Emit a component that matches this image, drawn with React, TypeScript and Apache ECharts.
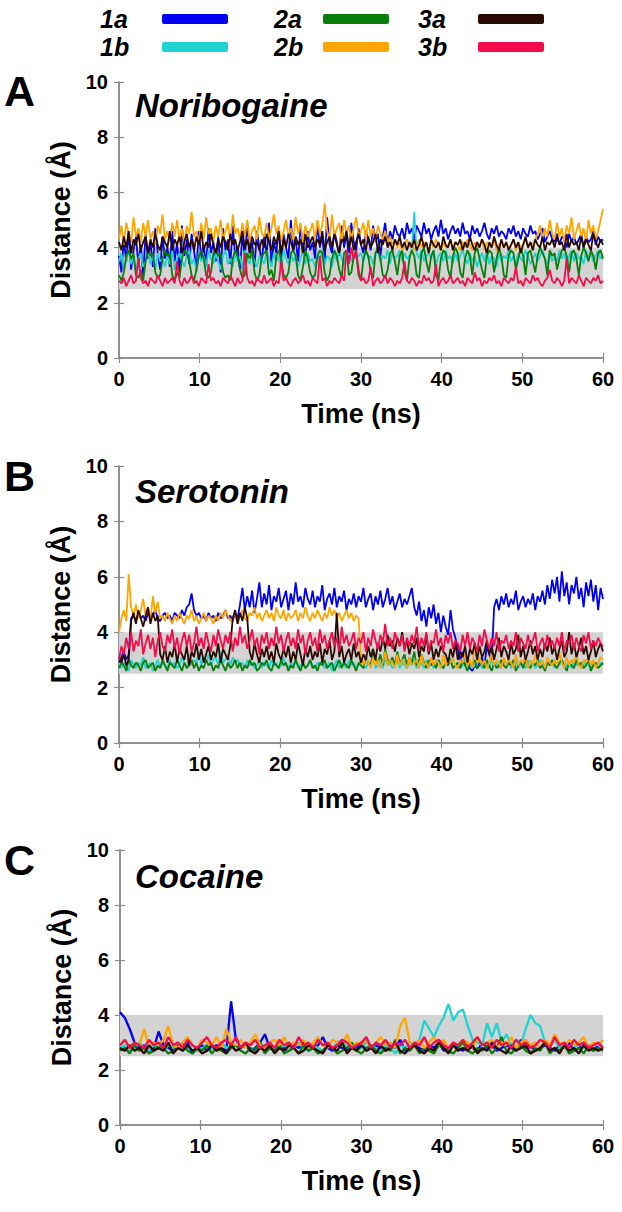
import React, { useEffect, useRef } from "react";
import * as echarts from "echarts";

const T_MAX = 60;
const xTicks = [0, 10, 20, 30, 40, 50, 60];
const yTicks = [0, 2, 4, 6, 8, 10];
const panelLetters = ["A", "B", "C"];
const panelTitles = ["Noribogaine", "Serotonin", "Cocaine"];
const seriesNames = ["1a", "1b", "2a", "2b", "3a", "3b"];
const seriesColors = ["#0000f5", "#1fd3d3", "#0a7d0a", "#ffa500", "#2a0a00", "#f50a4a"];
const band = [2.5, 4.0];

// Panel A: Noribogaine (sampled every 0.3 ns)
const A1a = [3.7,3.1,4.3,3.5,4.6,3.2,3.9,4.4,3.4,4.1,3.0,4.5,3.6,4.2,3.3,4.7,3.8,3.2,4.4,3.6,
4.0,3.3,4.6,3.5,4.2,3.1,4.8,3.7,4.3,3.4,4.5,3.9,3.2,4.6,3.6,4.1,3.3,4.7,3.8,4.2,
3.5,4.4,3.1,4.7,3.9,4.3,3.4,4.8,3.7,4.0,3.2,4.5,3.6,4.9,3.8,4.2,3.3,4.6,4.0,3.5,
4.4,3.7,4.9,3.4,4.2,3.8,4.7,3.3,4.5,4.0,3.6,5.0,3.9,4.3,3.5,4.8,4.1,3.7,4.6,3.9,
4.2,3.6,4.9,4.0,4.4,3.5,5.1,4.1,3.8,4.6,4.2,3.7,4.8,4.0,4.5,3.6,4.9,4.2,3.9,4.7,
4.1,3.8,4.6,4.3,3.9,4.8,4.2,4.5,3.7,4.4,4.9,4.1,4.6,4.3,4.8,4.5,4.4,4.7,4.3,4.9,
4.5,4.7,4.3,4.8,4.6,4.4,4.9,4.5,4.7,4.3,4.6,4.8,4.4,5.0,4.5,4.7,4.3,4.6,4.8,4.5,
4.7,4.4,4.9,4.5,4.6,4.3,4.8,4.5,4.7,4.4,4.6,4.9,4.5,4.3,4.7,4.5,4.8,4.4,4.6,4.5,
4.3,4.7,4.5,4.8,4.4,4.6,4.3,4.7,4.5,4.4,4.8,4.5,4.6,4.3,4.5,4.7,4.2,4.4,4.6,4.3,
4.2,4.5,4.1,4.4,4.3,4.0,4.5,4.2,4.4,4.1,4.3,4.5,4.0,4.4,4.2,4.3,4.6,4.1,4.4,4.2,
4.3];
const A1b = [3.5,3.8,3.2,3.6,3.9,3.4,3.7,3.1,3.6,3.8,3.3,3.5,3.9,3.4,3.7,3.2,3.8,3.5,3.6,3.3,
3.7,3.4,3.9,3.2,3.6,3.8,3.5,3.3,3.7,3.9,3.4,3.6,3.1,3.8,3.5,3.7,3.3,3.9,3.6,3.4,
3.8,3.5,3.2,3.7,3.9,3.4,3.6,3.3,3.8,3.5,3.7,3.2,3.9,3.6,3.4,3.8,3.5,3.3,3.7,3.6,
3.4,3.9,3.6,3.3,3.8,3.5,3.7,3.2,3.9,3.6,3.4,3.8,3.5,3.7,3.3,3.6,3.9,3.4,3.8,3.5,
3.6,3.3,3.8,3.5,3.9,3.4,3.7,3.6,3.3,3.8,3.5,3.9,3.6,3.4,3.7,3.8,3.5,3.9,3.6,3.7,
3.8,3.5,3.9,3.6,3.7,3.4,3.8,3.9,3.5,3.7,3.6,3.9,3.4,3.8,3.6,3.7,3.9,3.5,3.8,3.6,
3.7,3.9,5.3,3.8,3.6,3.9,3.5,3.7,3.8,3.6,3.9,3.4,3.7,3.8,3.5,3.9,3.6,3.7,3.4,3.8,
3.5,3.7,3.9,3.6,3.4,3.8,3.5,3.7,3.3,3.6,3.8,3.5,3.9,3.4,3.7,3.6,3.3,3.8,3.5,3.7,
3.6,3.9,3.5,3.7,3.4,3.8,3.6,3.5,3.9,3.7,3.4,3.6,3.8,3.5,3.7,3.9,3.6,3.4,3.8,3.5,
3.7,3.5,3.9,3.6,3.8,3.4,3.7,3.9,3.5,3.8,3.6,3.7,3.4,3.9,3.6,3.8,3.5,3.7,3.9,3.6,
3.7];
const A2a = [3.0,2.8,3.1,3.7,3.9,3.6,3.8,3.0,2.9,3.2,2.8,3.5,3.9,3.7,3.8,3.1,2.9,3.0,3.6,3.9,
3.7,3.8,3.0,2.8,3.1,2.9,3.6,3.9,3.8,3.5,3.0,2.8,3.2,3.7,3.9,3.6,3.0,2.9,3.1,3.8,
3.9,3.7,3.8,3.1,2.9,3.0,2.8,3.6,3.9,3.7,3.2,2.9,3.0,3.8,3.6,3.9,3.1,2.8,3.0,3.7,
3.8,3.9,3.0,3.2,2.8,3.7,3.9,3.6,3.0,2.9,3.1,3.8,3.9,3.7,3.0,2.8,3.3,3.9,3.6,3.1,
2.9,3.0,3.7,3.9,3.8,3.1,2.8,3.0,3.6,3.9,3.7,3.2,2.9,3.8,3.9,3.0,3.1,3.7,3.8,3.0,
2.8,3.6,3.9,3.7,3.1,2.9,3.8,4.0,3.6,3.0,2.9,3.2,3.8,3.9,3.5,3.0,3.7,3.9,3.1,2.8,
3.6,3.9,3.7,3.0,2.9,3.8,4.0,3.5,3.1,3.7,3.9,3.0,2.8,3.6,3.9,3.8,3.2,2.9,3.7,4.0,
3.8,3.1,2.9,3.6,3.9,3.7,3.0,3.8,4.0,3.6,3.2,2.9,3.7,3.9,3.8,3.1,3.6,4.0,3.7,3.0,
2.9,3.7,3.9,3.8,3.2,3.6,4.0,3.7,3.0,3.8,3.9,3.5,3.1,3.7,4.0,3.8,3.6,3.0,3.9,3.7,
3.8,3.2,3.6,3.9,4.0,3.7,3.1,3.8,3.9,3.6,3.0,3.7,4.0,3.8,3.5,3.9,3.7,3.2,3.8,3.9,
3.6];
const A2b = [4.3,4.8,4.1,4.9,4.5,4.2,5.1,4.4,4.7,4.2,4.9,4.4,5.0,4.3,4.6,4.1,4.8,4.5,5.2,4.3,
4.6,4.2,4.9,4.4,5.0,4.3,4.7,4.1,4.8,4.5,5.3,4.4,4.6,4.2,4.9,4.3,5.1,4.5,4.7,4.2,
4.8,4.4,5.0,4.3,4.6,4.9,4.2,5.2,4.5,4.7,4.3,4.9,4.4,5.0,4.2,4.6,4.8,4.3,5.1,4.5,
4.4,4.9,4.3,4.7,5.2,4.5,4.8,4.2,4.6,5.0,4.4,4.7,4.3,5.1,4.5,4.9,4.2,4.8,4.4,4.6,
4.9,4.3,5.0,4.5,4.8,5.6,4.6,4.3,5.2,4.4,4.7,4.9,4.2,5.0,4.5,4.8,4.3,4.7,5.1,4.4,
4.6,4.9,4.3,5.0,4.4,4.7,4.2,4.8,4.5,4.3,4.6,4.2,4.4,4.1,4.3,4.0,4.2,3.9,4.1,4.3,
4.0,4.2,3.9,4.1,4.3,4.0,4.2,4.1,3.9,4.2,4.0,4.3,4.1,3.9,4.2,4.0,4.1,4.3,3.9,4.2,
4.1,3.9,4.2,4.0,4.3,4.1,3.9,4.2,4.0,4.1,4.3,3.9,4.2,4.1,4.0,4.3,3.9,4.1,4.2,4.0,
4.2,4.0,4.1,4.3,3.9,4.2,4.0,4.1,4.3,4.0,4.2,4.1,4.3,4.5,4.8,4.3,4.7,4.4,5.0,4.5,
4.3,4.9,4.4,4.7,4.2,4.8,4.5,5.1,4.3,4.6,4.9,4.4,4.7,4.2,5.0,4.5,4.8,4.3,4.6,5.0,
5.4];
const A3a = [4.2,3.9,4.4,4.0,4.6,3.8,4.3,4.1,4.5,3.9,4.2,4.4,3.8,4.3,4.0,4.5,4.1,3.9,4.4,4.2,
4.0,4.6,3.9,4.3,4.1,4.4,3.8,4.2,4.5,4.0,4.3,3.9,4.4,4.1,4.6,3.9,4.2,4.0,4.5,4.1,
3.8,4.3,4.0,4.4,4.2,3.9,4.5,4.1,4.3,3.9,4.2,4.6,4.0,4.3,3.8,4.4,4.1,4.2,3.9,4.3,
4.0,4.5,4.2,3.9,4.4,4.1,4.6,3.8,4.3,4.0,4.5,4.2,3.9,4.4,4.1,4.3,3.8,4.5,4.0,4.2,
4.4,4.0,4.3,4.1,4.6,3.9,4.2,4.4,4.0,4.5,4.1,3.8,4.3,4.2,4.6,4.0,4.4,3.9,4.2,4.5,
4.1,4.3,3.9,4.4,4.0,4.2,4.5,3.8,4.3,4.1,4.4,4.0,4.2,3.9,4.3,4.1,4.4,4.0,4.2,3.9,
4.2,4.0,4.3,3.9,4.1,4.4,4.0,4.2,3.8,4.3,4.1,4.0,4.2,3.9,4.4,4.1,4.0,4.3,3.9,4.2,
4.1,4.3,3.9,4.2,4.0,4.4,4.1,3.9,4.2,4.0,4.3,4.1,3.8,4.2,4.0,4.4,4.1,3.9,4.3,4.0,
4.2,3.9,4.1,4.3,4.0,4.2,3.8,4.1,4.4,4.0,4.2,3.9,4.3,4.1,4.0,4.4,3.9,4.2,4.1,4.3,
4.0,4.4,4.1,4.2,3.9,4.5,4.0,4.3,4.1,4.2,3.9,4.4,4.0,4.3,4.1,3.9,4.5,4.2,4.0,4.3,
4.1];
const A3b = [2.8,2.7,2.9,2.6,2.8,3.0,2.7,2.8,3.6,2.9,2.7,2.8,2.6,2.9,2.8,2.7,3.0,2.8,2.6,2.9,
2.7,2.8,2.9,2.7,3.5,2.8,2.6,2.9,2.7,2.8,3.0,2.7,2.8,2.6,2.9,2.8,2.7,3.4,2.8,2.9,
2.7,2.8,2.6,2.9,2.8,2.7,3.0,2.8,2.6,2.9,2.7,2.8,3.8,2.9,2.7,2.8,2.6,2.9,2.8,2.7,
3.0,2.7,2.8,2.9,2.6,2.8,2.7,3.5,2.8,2.9,2.7,2.6,2.8,2.9,2.7,2.8,3.0,2.7,2.8,2.6,
2.9,2.8,2.7,3.7,2.8,2.9,2.6,2.8,2.7,2.9,2.8,2.7,3.0,2.8,3.9,3.4,4.0,3.6,3.9,3.2,
2.8,2.9,2.7,2.8,3.3,2.6,2.8,2.9,2.7,2.8,3.0,2.7,2.9,2.8,2.6,2.8,2.7,2.9,3.5,2.8,
2.7,2.9,2.8,2.6,2.8,2.7,3.0,2.8,2.9,2.7,2.8,3.4,2.6,2.8,2.9,2.7,2.8,3.0,2.7,2.8,
2.9,2.7,2.8,2.6,2.9,2.8,2.7,3.1,2.8,2.9,2.6,2.8,2.7,2.9,2.8,3.0,2.7,2.8,2.6,2.9,
2.8,2.7,2.9,2.8,3.3,2.7,2.8,2.6,2.9,2.8,2.7,3.0,2.8,2.9,2.7,2.6,2.8,2.9,3.2,2.8,
2.7,2.9,2.8,2.6,2.8,3.6,2.7,2.9,2.8,2.7,3.0,2.8,2.6,2.9,2.8,2.7,2.9,2.8,3.0,2.7,
2.8];

// Panel B: Serotonin (sampled every 0.3 ns)
const B1a = [2.9,3.1,3.3,3.0,3.2,4.5,4.6,4.4,4.7,4.5,4.6,4.4,4.7,4.5,4.6,4.8,4.5,4.4,4.6,4.7,
4.5,4.6,4.4,4.7,4.6,4.5,4.8,4.6,4.9,5.0,5.4,4.8,4.6,4.7,4.5,4.6,4.4,4.7,4.5,4.6,
4.4,4.7,4.5,4.6,4.8,4.5,4.6,4.4,4.7,4.5,5.0,5.6,4.8,5.3,4.9,5.5,4.7,5.2,5.8,4.9,
5.4,5.0,5.7,4.8,5.3,5.1,5.6,4.9,5.2,5.5,4.8,5.4,5.0,5.8,5.1,5.3,4.9,5.6,5.2,5.0,
5.5,4.9,5.3,5.1,5.7,4.8,5.2,5.4,5.0,5.6,4.9,5.3,5.1,5.5,4.8,5.2,5.0,5.4,4.9,5.3,
5.1,5.6,4.9,5.2,5.4,4.8,5.3,5.0,5.5,4.9,5.2,5.6,5.0,5.3,4.8,5.1,5.4,4.9,5.2,5.0,
5.3,5.6,4.9,4.6,5.1,4.4,4.8,4.2,4.9,4.5,5.0,4.3,4.7,4.0,4.6,4.2,3.9,4.8,4.1,3.8,
3.4,3.0,3.3,2.8,2.9,2.7,2.6,2.8,2.7,2.9,3.1,2.8,3.5,3.2,3.0,4.9,5.2,4.8,5.3,5.0,
5.4,4.9,5.2,5.0,5.5,4.8,5.1,5.3,4.9,5.2,5.0,5.4,4.8,5.3,5.1,5.5,5.0,5.7,5.2,5.9,
5.4,6.0,5.1,6.2,5.3,5.8,5.0,5.7,5.4,6.0,5.2,5.6,4.9,5.8,5.3,5.9,5.1,5.7,4.8,5.6,
5.2];
const B1b = [2.8,2.7,2.9,2.8,2.6,3.0,2.8,2.7,2.9,2.8,3.1,2.7,2.8,2.9,2.6,2.8,3.0,2.7,2.9,2.8,
2.7,3.0,2.8,2.9,2.7,2.8,3.1,2.9,2.7,3.2,2.8,3.0,2.9,3.3,2.8,3.1,2.9,3.2,2.8,3.0,
3.1,2.8,3.3,2.9,3.0,3.2,2.8,3.1,2.9,3.0,2.8,2.9,2.7,3.0,2.8,2.9,2.7,2.8,3.0,2.7,
2.9,2.8,2.7,3.0,2.8,2.9,2.7,2.8,3.1,2.8,2.7,2.9,2.8,3.0,2.7,2.8,2.9,2.7,2.8,3.0,
2.8,2.7,2.9,2.8,3.0,2.7,2.8,2.9,2.6,2.8,3.0,2.7,2.9,2.8,2.7,3.0,2.8,2.9,2.7,2.8,
3.0,2.8,2.7,2.9,2.8,3.1,2.7,2.8,2.9,2.7,3.0,2.8,2.9,2.7,2.8,3.0,2.7,2.9,2.8,2.7,
2.9,2.8,3.0,2.7,2.8,2.9,2.7,3.0,2.8,2.9,2.7,2.8,3.0,2.8,2.7,2.9,2.8,3.1,2.7,2.8,
2.9,2.7,2.8,3.0,2.8,2.9,2.7,2.8,2.9,3.0,2.7,2.8,2.9,2.7,3.0,2.8,2.9,2.7,2.8,3.0,
2.8,2.9,2.7,2.8,3.0,2.7,2.9,2.8,2.7,3.0,2.8,2.9,2.7,2.8,3.0,2.8,2.7,2.9,2.8,3.0,
2.7,2.9,2.8,3.0,2.7,2.8,2.9,2.7,3.0,2.8,2.9,2.7,2.8,3.0,2.8,2.7,2.9,2.8,2.7,2.9,
2.8];
const B2a = [2.7,2.9,2.8,2.6,3.0,2.8,2.7,2.9,2.8,2.6,2.9,3.0,2.7,2.8,2.9,2.6,2.8,2.7,3.0,2.8,
2.6,2.9,2.8,2.7,3.0,2.8,2.6,2.9,2.7,2.8,3.0,2.7,2.9,2.6,2.8,2.7,3.0,2.8,2.9,2.6,
2.8,2.7,3.0,2.8,2.6,2.9,2.7,2.8,3.0,2.7,2.9,2.6,2.8,2.7,3.0,2.8,2.9,2.6,2.7,2.9,
2.8,3.0,2.7,2.6,2.9,2.8,2.7,3.0,2.8,2.9,2.6,2.8,2.7,3.0,2.8,2.6,2.9,2.7,2.8,3.0,
2.7,2.8,2.6,2.9,2.8,3.0,2.7,2.8,2.9,2.6,2.8,3.0,2.7,2.9,2.8,2.7,3.0,2.8,2.6,2.9,
2.8,2.7,3.1,2.9,2.8,3.3,3.0,2.9,3.2,2.8,3.4,3.0,2.9,3.1,2.8,3.3,2.9,3.0,3.2,2.8,
3.1,2.9,3.3,2.8,3.0,3.2,2.9,2.7,3.0,2.8,2.9,2.7,3.0,2.8,2.7,2.9,2.8,3.0,2.7,2.8,
2.9,2.7,3.0,2.8,2.6,2.9,2.8,3.0,2.7,2.8,2.9,2.7,3.0,2.8,2.6,2.9,2.7,2.8,3.0,2.8,
2.7,2.9,2.8,3.0,2.6,2.8,2.9,2.7,3.0,2.8,2.7,2.9,2.8,3.0,2.7,2.8,2.6,2.9,2.8,3.0,
2.8,2.7,2.9,3.0,2.8,2.6,2.9,2.8,2.7,3.0,2.8,2.9,2.7,2.8,3.0,2.6,2.8,2.9,2.7,2.8,
2.9];
const B2b = [4.0,4.5,4.8,4.4,6.1,4.9,4.6,5.0,4.5,4.8,5.2,4.6,4.9,4.4,5.3,4.7,5.1,4.5,4.6,4.4,
4.7,4.5,4.3,4.6,4.4,4.7,4.5,4.3,4.6,4.5,4.8,4.4,4.6,4.3,4.5,4.7,4.4,4.6,4.5,4.3,
4.6,4.4,4.7,4.5,4.8,4.6,4.4,4.5,4.7,4.3,4.6,4.8,4.5,4.4,4.7,4.6,4.9,4.5,4.7,4.4,
4.6,4.8,4.5,4.7,4.4,4.9,4.6,4.5,4.8,4.4,4.7,4.5,4.6,4.8,4.4,4.7,4.5,4.9,4.6,4.4,
4.7,4.5,4.8,4.6,4.4,4.7,4.5,4.9,4.6,4.8,4.5,4.7,4.4,4.6,4.8,4.5,4.7,4.4,4.6,4.5,
3.0,2.8,3.2,2.9,2.7,3.1,2.8,3.0,2.7,2.9,3.3,2.8,3.0,2.9,2.7,3.2,2.8,3.0,2.9,2.7,
3.1,2.8,2.9,3.0,2.7,3.2,2.8,2.9,2.7,3.1,2.8,3.0,2.9,2.7,3.2,2.8,3.0,2.9,3.1,2.8,
2.7,3.0,2.9,3.2,2.8,3.0,2.7,3.6,2.9,3.1,2.8,3.0,2.7,2.9,3.2,2.8,3.0,2.9,2.7,3.1,
2.8,3.0,2.9,2.7,3.2,2.8,3.0,2.9,3.1,2.7,3.0,2.8,3.2,2.9,2.8,3.0,2.7,3.1,2.9,2.8,
3.0,2.8,3.3,2.9,2.7,3.1,2.8,3.0,2.9,3.2,2.8,2.7,3.0,2.9,3.1,2.8,3.0,2.7,2.9,3.1,
3.0];
const B3a = [3.1,2.9,3.2,2.8,3.0,4.4,4.7,4.3,4.8,4.5,4.2,4.6,4.9,4.3,4.7,4.4,4.6,3.2,3.0,3.5,
2.9,3.3,3.1,3.6,2.9,3.4,3.2,3.0,3.5,2.8,3.3,3.1,3.6,3.0,3.4,2.9,3.2,3.5,3.0,3.3,
3.1,3.6,2.9,3.4,3.2,3.0,3.5,4.5,4.8,4.3,4.7,4.4,4.9,4.5,3.3,3.0,3.6,3.2,2.9,3.4,
3.1,3.5,3.0,3.3,2.9,3.6,3.2,3.0,3.4,3.1,3.5,2.9,3.3,3.0,3.6,3.2,2.8,3.4,3.1,3.5,
3.0,3.3,3.1,3.6,2.9,3.4,3.2,3.7,3.0,3.3,4.7,3.1,3.5,2.9,3.2,3.4,3.0,3.6,3.1,3.3,
2.9,3.2,3.0,3.5,3.1,3.4,3.0,3.6,3.3,3.8,3.4,3.9,3.5,3.7,3.3,3.8,3.5,4.0,3.4,3.7,
3.2,3.6,3.4,3.8,3.1,3.5,3.3,3.9,3.2,3.6,3.0,3.4,3.1,3.5,3.3,3.2,2.9,3.4,3.1,3.6,
3.0,3.3,3.1,3.5,2.9,3.4,3.2,3.6,3.0,3.5,3.1,3.3,3.7,3.2,3.5,3.0,3.4,3.8,3.1,3.5,
3.3,3.0,3.6,3.2,3.4,3.9,3.1,3.5,3.0,3.3,3.7,3.2,3.5,3.0,3.4,3.1,3.6,3.3,3.8,3.2,
3.5,3.0,3.4,3.7,3.1,3.3,4.0,3.2,3.6,3.1,3.4,3.8,3.2,3.5,3.0,3.3,3.7,3.1,3.4,3.6,
3.3];
const B3b = [3.0,3.5,3.2,3.8,3.4,4.0,3.3,3.7,3.5,4.1,3.2,3.6,3.9,3.4,3.8,3.1,3.7,4.0,3.5,3.3,
3.9,3.6,4.1,3.4,3.8,3.2,3.7,4.0,3.5,3.9,3.3,3.6,4.2,3.5,3.8,3.4,4.0,3.6,3.3,3.9,
3.5,4.1,3.7,3.4,3.9,3.6,4.0,3.3,3.8,3.5,4.2,3.6,3.9,3.4,3.7,4.1,3.5,3.8,3.2,3.9,
3.6,4.0,3.4,3.8,3.5,4.2,3.6,3.9,3.3,3.7,4.0,3.5,3.8,3.4,4.1,3.6,3.9,3.2,3.7,4.0,
3.5,3.8,3.3,4.1,3.6,3.9,3.4,3.7,4.0,3.5,3.8,3.3,4.2,3.6,3.9,3.5,3.7,4.0,3.4,3.8,
3.6,4.0,3.3,3.8,3.5,4.1,3.7,3.4,3.9,3.6,4.3,3.5,3.8,3.4,4.0,3.7,3.5,3.9,3.3,3.8,
3.5,3.9,3.6,4.2,3.4,3.8,3.5,4.0,3.3,3.7,3.6,4.1,3.5,3.8,3.3,3.9,3.6,4.0,3.4,3.7,
3.6,3.3,3.9,3.5,4.0,3.4,3.8,3.6,3.3,3.9,3.5,4.1,3.7,3.4,3.8,3.5,4.0,3.3,3.7,3.6,
3.9,3.4,3.7,3.5,4.0,3.3,3.8,3.6,3.4,3.9,3.5,3.7,4.0,3.3,3.6,3.8,3.4,3.9,3.5,3.7,
3.4,3.8,3.5,4.0,3.3,3.7,3.6,3.9,3.4,3.8,3.5,3.3,3.9,3.6,4.0,3.4,3.7,3.5,3.8,3.6,
3.5];

// Panel C: Cocaine (sampled every 0.6 ns)
const C1a = [4.1,3.9,3.5,3.0,2.8,2.9,2.7,2.8,3.4,2.9,2.8,2.7,2.9,2.8,3.0,2.6,2.8,2.9,2.7,2.8,
2.9,2.8,2.7,4.5,3.1,2.8,2.9,2.7,2.8,3.0,3.3,2.8,2.7,2.9,2.8,2.7,2.9,2.8,3.0,2.7,
2.8,2.9,3.2,2.8,2.7,2.9,2.8,2.7,2.9,2.8,3.0,2.7,2.8,2.9,2.8,2.7,2.9,2.8,3.1,2.7,
2.8,2.9,2.8,2.7,2.9,2.8,3.0,2.7,2.8,2.9,2.8,2.7,2.9,2.8,2.7,3.0,2.8,2.9,2.7,2.8,
2.9,2.8,2.7,3.1,2.8,2.9,2.7,2.8,2.9,2.8,2.7,2.9,2.8,3.0,2.7,2.8,2.9,2.8,2.7,2.9,2.8];
const C1b = [2.8,2.9,2.7,2.8,3.0,2.8,2.7,2.9,2.8,2.7,2.9,2.8,3.0,2.7,2.8,2.9,2.7,2.8,2.9,2.8,
2.7,3.0,2.8,2.9,2.7,2.8,2.9,2.8,2.7,3.0,2.8,2.9,2.7,2.8,2.9,2.7,2.8,3.0,2.8,2.7,
2.9,2.8,2.7,2.9,2.8,3.0,3.1,2.8,2.9,2.7,2.8,3.0,2.9,2.8,2.7,2.9,2.8,2.6,2.9,2.8,
3.0,2.9,3.1,3.8,3.5,3.2,3.6,3.9,4.4,3.8,4.1,4.2,3.6,3.1,3.0,2.9,3.7,3.2,3.7,3.0,
3.3,2.9,3.1,2.9,3.5,4.0,3.7,3.6,3.0,2.9,3.1,2.8,2.9,2.7,2.8,3.0,2.8,2.9,2.7,2.8,2.9];
const C2a = [2.7,2.8,2.6,2.9,2.7,2.8,2.6,2.7,2.9,2.8,2.6,2.7,2.8,3.0,2.7,2.6,2.8,2.7,2.9,2.6,
2.8,2.7,2.6,2.8,2.9,2.7,2.6,2.8,2.7,3.0,2.6,2.8,2.7,2.9,2.6,2.7,2.8,2.6,2.9,2.7,
2.8,2.6,2.7,2.9,2.8,2.6,2.7,2.8,3.0,2.7,2.6,2.8,2.9,2.7,2.6,2.8,2.7,3.1,2.6,2.8,
2.7,2.9,2.6,2.8,2.7,2.6,2.9,2.8,2.7,2.6,2.8,3.0,2.7,2.6,2.8,2.7,2.9,2.6,2.8,3.2,
2.7,2.6,2.8,2.9,2.7,2.6,2.8,2.7,3.0,2.6,2.8,2.7,2.9,2.6,2.7,2.8,2.6,2.9,2.7,2.8,2.7];
const C2b = [2.9,3.1,2.8,3.0,2.9,3.5,2.8,3.0,2.9,3.1,3.6,2.9,2.8,3.0,3.2,2.9,2.8,3.1,3.0,2.9,
3.2,2.8,3.5,3.0,2.9,3.1,2.8,3.0,3.3,2.9,2.8,3.0,3.1,2.9,3.2,2.8,3.0,2.9,3.1,2.8,
3.0,3.2,2.9,2.8,3.1,3.0,2.9,3.3,2.8,3.0,2.9,3.1,2.8,3.0,3.2,2.9,3.0,2.8,3.6,3.9,
3.0,2.9,3.1,2.8,3.0,3.2,2.9,3.1,2.8,3.0,2.9,3.1,3.0,2.8,3.2,2.9,3.0,3.1,2.8,3.0,
2.9,3.2,2.8,3.0,3.1,2.9,3.0,2.8,3.1,2.9,3.3,3.0,2.8,3.1,2.9,3.0,3.2,2.8,3.0,2.9,3.1];
const C3a = [2.8,2.7,2.9,2.7,2.8,2.6,2.9,2.7,2.8,2.7,3.0,2.6,2.8,2.7,2.9,2.7,2.8,2.6,2.7,2.9,
2.7,2.8,2.6,2.9,2.7,2.8,3.0,2.7,2.6,2.8,2.7,2.9,2.6,2.8,2.7,2.9,2.8,2.6,2.7,2.9,
2.8,2.7,2.6,2.9,2.8,2.7,3.0,2.6,2.8,2.7,2.9,2.7,2.8,2.6,2.9,2.7,2.8,3.0,2.7,2.6,
2.8,2.9,2.7,2.6,2.8,2.7,3.0,2.8,2.6,2.9,2.7,2.8,2.7,2.9,2.6,2.8,2.7,3.0,2.8,2.7,
2.6,2.9,2.7,2.8,2.9,2.6,2.7,2.8,3.0,2.7,2.8,2.6,2.9,2.7,2.8,2.6,2.9,2.7,2.8,2.7,2.8];
const C3b = [2.9,3.1,2.8,3.0,2.9,2.8,3.1,2.9,3.0,2.8,3.2,2.9,3.0,2.8,3.1,2.9,2.8,3.0,3.2,2.9,
2.8,3.0,3.1,2.9,3.2,2.8,3.0,2.9,3.1,2.8,2.9,3.0,2.8,3.1,2.9,3.0,2.8,3.2,2.9,3.0,
2.8,3.1,2.9,3.0,2.8,2.9,3.1,3.0,2.8,2.9,3.0,3.2,2.8,3.0,2.9,3.1,2.8,3.0,2.9,3.1,
2.8,3.0,2.9,3.2,2.8,3.0,3.1,2.9,2.8,3.0,2.9,3.1,2.8,3.0,3.2,2.9,3.0,2.8,3.1,2.9,
3.0,2.8,3.1,2.9,3.0,2.8,2.9,3.1,3.0,2.8,3.2,2.9,3.0,2.8,3.1,2.9,3.0,2.8,2.9,3.0,2.8];

const panels = [
  [A1a, A1b, A2a, A2b, A3a, A3b],
  [B1a, B1b, B2a, B2b, B3a, B3b],
  [C1a, C1b, C2a, C2b, C3a, C3b],
];

const FONT = "'Liberation Sans', Arial, Helvetica, sans-serif";
const grids = [
  { left: 119, top: 82, width: 484, height: 276 },
  { left: 119, top: 466, width: 484, height: 277 },
  { left: 120, top: 850, width: 483, height: 275 },
];
const letterY = [92, 477, 861];
const titleY = [92, 478, 863];

export default function App() {
  const ref = useRef<HTMLDivElement>(null);
  useEffect(() => {
    document.body.style.margin = "0";
    const chart = echarts.init(ref.current!, null, { renderer: "svg" });
    const axisColor = "#8a8a8a";
    const xAxes: any[] = [];
    const yAxes: any[] = [];
    const series: any[] = [];
    const graphic: any[] = [];
    grids.forEach((g, p) => {
      const common = {
        gridIndex: p,
        type: "value",
        axisLine: { show: true, lineStyle: { color: axisColor, width: 1.5 } },
        axisTick: { show: true, inside: true, length: 5, lineStyle: { color: axisColor, width: 1.2 } },
        splitLine: { show: false },
      };
      xAxes.push({
        ...common,
        position: "bottom",
        min: xTicks[0],
        max: xTicks[xTicks.length - 1],
        interval: 10,
        axisLabel: { show: true, margin: 11, fontSize: 20, fontWeight: "bold", color: "#000", fontFamily: FONT },
        name: "Time (ns)",
        nameLocation: "middle",
        nameGap: 42,
        nameTextStyle: { fontSize: 27, fontWeight: "bold", color: "#000", fontFamily: FONT, verticalAlign: "top" },
      });
      xAxes.push({
        ...common,
        position: "top",
        min: xTicks[0],
        max: xTicks[xTicks.length - 1],
        interval: 10,
        axisLabel: { show: false },
      });
      yAxes.push({
        ...common,
        position: "left",
        min: yTicks[0],
        max: yTicks[yTicks.length - 1],
        interval: 2,
        axisLabel: { show: true, margin: 11, fontSize: 20, fontWeight: "bold", color: "#000", fontFamily: FONT },
        name: "Distance (Å)",
        nameLocation: "middle",
        nameGap: 37,
        nameRotate: 90,
        nameTextStyle: { fontSize: 27, fontWeight: "bold", color: "#000", fontFamily: FONT },
      });
      yAxes.push({
        ...common,
        position: "right",
        min: yTicks[0],
        max: yTicks[yTicks.length - 1],
        interval: 2,
        axisLabel: { show: false },
      });
      // gray reference band
      series.push({
        type: "line",
        xAxisIndex: 2 * p,
        yAxisIndex: 2 * p,
        data: [[0, band[0]]],
        showSymbol: false,
        lineStyle: { opacity: 0 },
        z: 1,
        silent: true,
        markArea: {
          silent: true,
          itemStyle: { color: "#d3d3d3" },
          data: [[{ yAxis: band[0] }, { yAxis: band[1] }]],
        },
      });
      panels[p].forEach((vals, k) => {
        const step = T_MAX / (vals.length - 1);
        series.push({
          name: seriesNames[k],
          type: "line",
          xAxisIndex: 2 * p,
          yAxisIndex: 2 * p,
          data: vals.map((v, i) => [+(i * step).toFixed(2), v]),
          showSymbol: false,
          symbol: "none",
          lineStyle: { color: seriesColors[k], width: p === 2 ? 2.3 : 1.8 },
          itemStyle: { color: seriesColors[k] },
          z: 2 + k,
        });
      });
      graphic.push({
        type: "text",
        left: 4,
        top: letterY[p] - 23,
        style: { text: panelLetters[p], font: `bold 43px ${FONT}`, fill: "#000" },
      });
      graphic.push({
        type: "text",
        left: 135,
        top: titleY[p] - 3,
        style: { text: panelTitles[p], font: `italic bold 33px ${FONT}`, fill: "#000" },
      });
    });
    // legend
    const legendCols = [
      { tx: 100, bx: 162 },
      { tx: 274, bx: 323 },
      { tx: 418, bx: 478 },
    ];
    const legendRows = [19, 47];
    seriesNames.forEach((n, k) => {
      const col = legendCols[Math.floor(k / 2)];
      const ry = legendRows[k % 2];
      graphic.push({
        type: "text",
        x: col.tx,
        y: ry,
        style: { text: n, font: `italic bold 25px ${FONT}`, fill: "#000", textVerticalAlign: "middle", verticalAlign: "middle" },
      });
      graphic.push({
        type: "rect",
        shape: { x: col.bx, y: ry - 5, width: 66, height: 10, r: 2 },
        style: { fill: seriesColors[k] },
      });
    });

    chart.setOption({
      animation: false,
      backgroundColor: "#fff",
      textStyle: { fontFamily: FONT },
      grid: grids,
      xAxis: xAxes,
      yAxis: yAxes,
      series,
      graphic,
    });
    return () => chart.dispose();
  }, []);
  return <div ref={ref} style={{ width: 622, height: 1212 }} />;
}
